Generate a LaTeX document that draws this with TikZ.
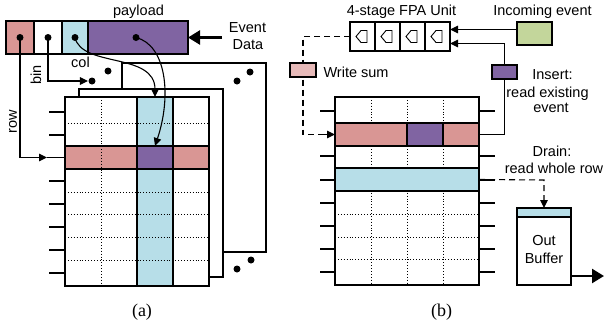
\documentclass[tikz,border=0pt]{standalone}
\usepackage{fontspec}
\setmainfont{Liberation Sans}
\newfontfamily\capfont{Liberation Serif}
\usetikzlibrary{arrows.meta}
\definecolor{rowred}{HTML}{D99694}
\definecolor{evpurple}{HTML}{8064A2}
\definecolor{colcyan}{HTML}{B7DEE8}
\definecolor{ingreen}{HTML}{C3D69B}
\definecolor{sumpink}{HTML}{E6B9B8}
\begin{document}
\begin{tikzpicture}[x=1pt,y=-1pt,line width=1.1pt,
  font=\fontsize{14.5}{17}\selectfont,
  box/.style={draw,inner sep=0pt,outer sep=0pt,anchor=north west},
  fillbox/.style={draw=none,inner sep=0pt,outer sep=0pt,anchor=north west},
  dotn/.style={circle,fill=black,inner sep=0pt,minimum size=7pt},
  lbl/.style={inner sep=0pt,anchor=base},
  hl/.style={line width=1.5pt},
  tick/.style={line width=1.3pt},
  gridline/.style={dotted,line width=0.9pt},
  arr/.style={-{Triangle[length=8pt,width=7.5pt]}},
  bigarr/.style={line width=2.4pt,-{Triangle[length=12pt,width=14pt]}},
  dsh/.style={dash pattern=on 6pt off 4pt},
  capt/.style={lbl,font=\capfont\fontsize{18}{20}\selectfont}]
\useasboundingbox (0,0) rectangle (606,327);

% ---------------- Panel (a) ----------------
\node[box,fill=rowred,minimum width=28pt,minimum height=33pt] (frow) at (6,21) {};
\node[box,fill=white,minimum width=28pt,minimum height=33pt] (fbin) at (34,21) {};
\node[box,fill=colcyan,minimum width=26pt,minimum height=33pt] (fcol) at (62,21) {};
\node[box,fill=evpurple,minimum width=100pt,minimum height=33pt] (fpay) at (88,21) {};
\node[dotn] (drow) at (frow.center) {};
\node[dotn] (dbin) at (fbin.center) {};
\node[dotn] (dcol) at (fcol.center) {};
\node[dotn] (dpay) at (136,37.5) {};
\node[lbl] (tpay) at (138.5,15) {payload};
\node[lbl] (tev) at (247.5,32) {Event};
\node[lbl] (tdata) at (248,49) {Data};
\coordinate (evsrc) at (222,37.5);
\draw[bigarr] (evsrc) -- (fpay.east);

% stacked planes
\node[box,fill=white,minimum width=144pt,minimum height=189pt] (plane3) at (122,63) {};
\node[box,fill=white,minimum width=144pt,minimum height=188pt] (plane2) at (79,89) {};
\node[box,fill=white,minimum width=144pt,minimum height=189pt] (gridA) at (65,97) {};
\node[fillbox,fill=colcyan,minimum width=36pt,minimum height=189pt] (colA) at (137,97) {};
\node[fillbox,fill=rowred,minimum width=144pt,minimum height=23pt] (rowA) at (65,146) {};
\node[fillbox,fill=evpurple,minimum width=36pt,minimum height=23pt] (hitA) at (137,146) {};
\draw[gridline] (101,97) -- (101,286);
\foreach \y in {123,192,214,237,260} \draw[gridline] (65,\y) -- (209,\y);
\draw[hl] (colA.north west) rectangle (colA.south east);
\draw[hl] (rowA.north west) rectangle (rowA.south east);
\draw (gridA.north west) rectangle (gridA.south east);
\foreach \y in {112,135,181,204,227,250,273} \draw[tick] (49,\y) -- (65,\y);

% dots
\node[dotn] (e1) at (108,71) {};
\node[dotn] (e2) at (250,72) {};
\node[dotn] (e3) at (237,81) {};
\node[dotn] (e4) at (237,269) {};
\node[dotn] (e5) at (251,260) {};

% row / bin / col / payload routing
\coordinate (rowmid) at (47,157.5);
\draw[arr] (drow.center) |- (rowmid);
\draw (rowmid) -- (rowA.west);
\node[dotn] (dbin2) at (92,81) {};
\draw[arr] (dbin.center) |- (dbin2.west);
\draw[arr] (dcol.center) .. controls (82,68) and (155,52) .. (colA.north);
\draw[arr] (dpay.center) .. controls (166,45) and (172,95) .. (hitA.north);
\node[lbl] (tcol) at (80.5,67) {col};
\node[inner sep=0pt,rotate=90] (tbin) at (36,75) {bin};
\node[inner sep=0pt,rotate=90] (trow) at (13,122) {row};
\node[capt] (capa) at (142,316) {(a)};

% ---------------- Panel (b) ----------------
\node[lbl] (tfpa) at (401.5,15) {4-stage FPA Unit};
\foreach \i in {1,...,4} {
  \node[box,minimum width=25pt,minimum height=29pt] (fpa\i) at ({325+25*\i},22) {};
  \draw[line width=0.9pt,shift={(fpa\i.center)}] (-6.5,0) -- (-1.5,-6) -- (4.5,-6) -- (4.5,6) -- (-1.5,6) -- cycle;
}
\node[box,fill=ingreen,minimum width=35pt,minimum height=23pt] (green) at (517,22) {};
\node[lbl] (tin) at (542.5,15) {Incoming event};
\coordinate (inA) at (517,29.5);
\draw[arr] (inA) -- (inA -| fpa4.east);

\node[box,fill=white,minimum width=144pt,minimum height=188pt] (gridB) at (335,97) {};
\foreach \x in {371,407,443} \draw[gridline] (\x,97) -- (\x,285);
\foreach \y in {214,237,259} \draw[gridline] (335,\y) -- (479,\y);
\node[fillbox,fill=rowred,minimum width=144pt,minimum height=23pt] (rowB) at (335,123) {};
\node[fillbox,fill=evpurple,minimum width=36pt,minimum height=23pt] (hitB) at (407,123) {};
\node[fillbox,fill=colcyan,minimum width=144pt,minimum height=23pt] (drainB) at (335,168) {};
\draw[hl] (rowB.north west) rectangle (rowB.south east);
\draw[hl] (hitB.north west) rectangle (hitB.south east);
\draw[hl] (drainB.north west) rectangle (drainB.south east);
\draw (gridB.north west) rectangle (gridB.south east);

% insert path
\coordinate (insT) at (504.5,43.5);
\draw[arr] (rowB.east) -| (insT) -- (insT -| fpa4.east);
\node[box,fill=evpurple,minimum width=25pt,minimum height=14pt] (insbox) at (492,65) {};
\node[lbl] (tins) at (552.5,79) {Insert:};
\node[lbl] (tins2) at (547.5,97) {read existing};
\node[lbl] (tins3) at (551,112) {event};

% write-sum path
\coordinate (wsT) at (303,36.5);
\draw[dsh,arr] (fpa1.west) -- (wsT) |- (rowB.west);
\node[box,fill=sumpink,minimum width=26pt,minimum height=14pt] (wsbox) at (290,63) {};
\node[lbl,anchor=base west] (tws) at (323,77) {Write sum};

% drain path
\node[box,fill=white,minimum width=54pt,minimum height=77pt] (outbuf) at (517,208) {};
\node[box,fill=colcyan,minimum width=54pt,minimum height=9pt] (outtop) at (517,208) {};
\coordinate (drT) at (544,180);
\draw[dsh,arr] (drainB.east) -- (drT) -- (outbuf.north);
\node[lbl] (tdr) at (552,156) {Drain:};
\node[lbl] (tdr2) at (554,173) {read whole row};
\node[lbl] (tout) at (544,245) {Out};
\node[lbl] (tbuf) at (544,263) {Buffer};
\coordinate (outEnd) at (604,276);
\draw[bigarr] (outbuf.east |- outEnd) -- (outEnd);

\foreach \y in {111,134.5,156,180,203,226,249,272} \draw[tick] (320,\y) -- (335,\y);
\foreach \y in {111,156,180,203,226,249,272} \draw[tick] (479,\y) -- (495,\y);
\node[capt] (capb) at (441.5,316) {(b)};
\end{tikzpicture}
\end{document}
